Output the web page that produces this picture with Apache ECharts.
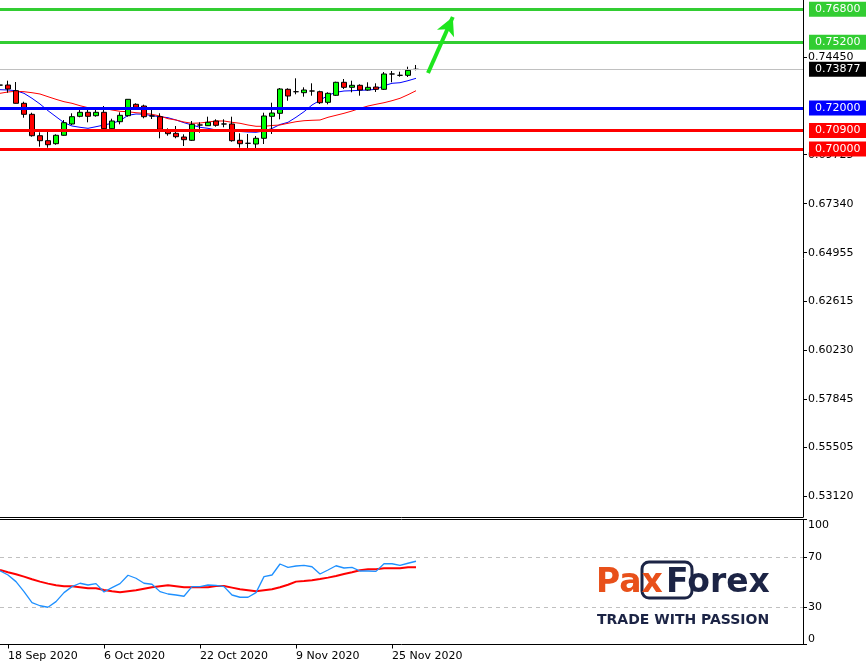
<!DOCTYPE html>
<html><head><meta charset="utf-8">
<script src="https://cdn.jsdelivr.net/npm/echarts@6/dist/echarts.min.js"></script>
<style>html,body{margin:0;padding:0;background:#fff}#c{width:866px;height:667px}</style>
</head><body><div id="c"></div>
<script>
// ---- data ----
const dates = ['17 Sep 2020','18 Sep 2020','21 Sep 2020','22 Sep 2020','23 Sep 2020','24 Sep 2020','25 Sep 2020','28 Sep 2020','29 Sep 2020','30 Sep 2020',
 '1 Oct 2020','2 Oct 2020','5 Oct 2020','6 Oct 2020','7 Oct 2020','8 Oct 2020','9 Oct 2020','12 Oct 2020','13 Oct 2020','14 Oct 2020',
 '15 Oct 2020','16 Oct 2020','19 Oct 2020','20 Oct 2020','21 Oct 2020','22 Oct 2020','23 Oct 2020','26 Oct 2020','27 Oct 2020','28 Oct 2020',
 '29 Oct 2020','30 Oct 2020','2 Nov 2020','3 Nov 2020','4 Nov 2020','5 Nov 2020','6 Nov 2020','9 Nov 2020','10 Nov 2020','11 Nov 2020',
 '12 Nov 2020','13 Nov 2020','16 Nov 2020','17 Nov 2020','18 Nov 2020','19 Nov 2020','20 Nov 2020','23 Nov 2020','24 Nov 2020','25 Nov 2020',
 '26 Nov 2020','27 Nov 2020','30 Nov 2020'];
// [open, close, low, high]
const candles = [
 [0.73110,0.73110,0.72920,0.73300],[0.73114,0.72920,0.72740,0.73324],[0.72837,0.72224,0.72214,0.73260],[0.72224,0.71688,0.71523,0.72301],
 [0.71688,0.70647,0.70599,0.71766],[0.70647,0.70404,0.70112,0.70813],[0.70404,0.70209,0.70063,0.70827],[0.70258,0.70667,0.70209,0.70715],
 [0.70667,0.71280,0.70647,0.71411],[0.71217,0.71572,0.71168,0.71737],[0.71591,0.71786,0.71543,0.71946],[0.71786,0.71591,0.71299,0.71932],
 [0.71620,0.71786,0.71572,0.71946],[0.71786,0.70988,0.70973,0.72092],[0.70988,0.71362,0.70959,0.71474],[0.71328,0.71640,0.71202,0.71786],
 [0.71620,0.72418,0.71572,0.72418],[0.72175,0.72029,0.71980,0.72224],[0.72092,0.71572,0.71494,0.72156],[0.71606,0.71606,0.71460,0.71898],
 [0.71572,0.70959,0.70521,0.71737],[0.70876,0.70745,0.70647,0.71007],[0.70764,0.70599,0.70521,0.71119],[0.70584,0.70453,0.70146,0.70715],
 [0.70423,0.71202,0.70389,0.71362],[0.71168,0.71168,0.70793,0.71299],[0.71134,0.71299,0.71119,0.71572],[0.71362,0.71153,0.71085,0.71445],
 [0.71217,0.71217,0.71056,0.71445],[0.71217,0.70404,0.70355,0.71572],[0.70423,0.70258,0.70063,0.70764],[0.70277,0.70277,0.70000,0.70730],
 [0.70243,0.70521,0.69903,0.70633],[0.70521,0.71606,0.70243,0.71766],[0.71591,0.71752,0.70730,0.72253],[0.71737,0.72920,0.71445,0.72968],
 [0.72905,0.72579,0.72350,0.72954],[0.72788,0.72788,0.72662,0.73440],[0.72740,0.72871,0.72545,0.73002],[0.72822,0.72822,0.72594,0.73197],
 [0.72788,0.72253,0.72190,0.72837],[0.72272,0.72710,0.72175,0.72759],[0.72613,0.73246,0.72579,0.73275],[0.73246,0.73002,0.72920,0.73406],
 [0.73002,0.73100,0.72759,0.73324],[0.73100,0.72871,0.72594,0.73148],[0.72871,0.73002,0.72837,0.73246],[0.73017,0.72905,0.72774,0.73197],
 [0.72905,0.73650,0.72871,0.73747],[0.73650,0.73650,0.73246,0.73795],[0.73586,0.73586,0.73518,0.73761],[0.73586,0.73830,0.73504,0.74005],
 [0.73877,0.73877,0.73830,0.74088]];
const maFast = [0.72886,0.72871,0.72837,0.72710,0.72467,0.72190,0.71864,0.71572,0.71280,0.71119,0.71056,0.71007,0.71085,0.71168,0.71251,0.71377,
 0.71640,0.71703,0.71693,0.71620,0.71572,0.71523,0.71411,0.71280,0.71168,0.71056,0.71007,0.70925,0.70876,0.70876,0.70852,0.70827,0.70813,
 0.70876,0.70998,0.71192,0.71299,0.71543,0.71815,0.72141,0.72370,0.72613,0.72759,0.72822,0.72837,0.72856,0.72871,0.72905,0.73080,0.73197,
 0.73226,0.73324,0.73440];
const maSlow = [0.72710,0.72774,0.72808,0.72788,0.72740,0.72676,0.72545,0.72418,0.72302,0.72224,0.72107,0.72010,0.71980,0.71980,0.71898,0.71834,
 0.71815,0.71766,0.71737,0.71688,0.71606,0.71474,0.71411,0.71313,0.71251,0.71265,0.71313,0.71362,0.71362,0.71299,0.71251,0.71168,0.71105,
 0.71105,0.71144,0.71168,0.71251,0.71328,0.71377,0.71397,0.71411,0.71543,0.71640,0.71737,0.71849,0.71980,0.72092,0.72175,0.72253,0.72350,
 0.72467,0.72642,0.72837];
const oscMain = [59,55.6,50.3,42.3,33.5,31,29.8,34.3,41.5,46.3,49,47.6,48.7,42,45.5,48.7,55.4,53,49,48.2,42.3,40.4,39.6,38.6,46.3,46.3,47.6,
 47.3,46.3,39.6,37.8,37.8,41.5,54.3,55.6,64.4,61.7,62.8,63.3,62.2,56.4,59.6,63,61.2,61.7,58.8,58.8,58.5,64.6,64.6,63.3,65,66.6];
const oscSignal = [59.6,57.8,56.2,54.3,52.2,50.3,48.7,47.4,46.6,46.6,45.8,45,45,43.6,42.6,41.8,42.6,43.4,44.6,45.8,46.6,47.4,46.6,45.8,45.8,
 45.8,45.8,46.7,46.8,45.5,44.2,43.4,42.6,43.4,44.2,45.8,47.8,50.3,50.8,51.4,52.4,53.5,54.8,56.4,57.8,59.4,60.2,60.2,61,61,61,61.8,61.8];
const priceTicks = [0.53120,0.55505,0.57845,0.60230,0.62615,0.64955,0.67340,0.69725,0.74450];
const oscTicks = [0,30,70,100];
const oscLevels = [70,30];
const xLabelIdx = [1,13,25,37,49];
const levels = [
 {value:0.76800, color:'#32cd32'},
 {value:0.75200, color:'#32cd32'},
 {value:0.72000, color:'#0000ff'},
 {value:0.70900, color:'#ff0000'},
 {value:0.70000, color:'#ff0000'}];
const currentPrice = 0.73877;
const arrowFrom = [53.5, 0.73698];
const arrowTo = [56.6, 0.76423];

// ---- chart ----
const FONT = 'DejaVu Sans';
const XMAX = 100.375;
const chart = echarts.init(document.getElementById('c'), null, {renderer:'canvas'});
const lbl = (bg) => ({show:true, position:'end', distance:6, formatter:p=>p.value.toFixed(5),
  backgroundColor:bg, color:'#fff', fontSize:11, fontFamily:FONT, padding:[2,6,1,6], lineHeight:12});

const levelLines = levels.map(l => ({yAxis:l.value, lineStyle:{color:l.color, width:3, type:'solid'}, label:lbl(l.color)}));
levelLines.push({yAxis:currentPrice, lineStyle:{color:'#c0c0c0', width:1, type:'solid'}, label:lbl('#000')});

chart.setOption({
  animation:false,
  backgroundColor:'#fff',
  grid:[{left:0, top:0, width:803, height:517}, {left:0, top:519.5, width:803, height:125}],
  xAxis:[
    {gridIndex:0, type:'value', min:0, max:XMAX, axisLine:{show:true, onZero:false, lineStyle:{color:'#000'}}, axisTick:{show:false}, axisLabel:{show:false}, splitLine:{show:false}},
    {gridIndex:1, type:'value', min:0, max:XMAX, position:'bottom', axisLine:{show:true, onZero:false, lineStyle:{color:'#000'}},
      axisTick:{show:true, length:4, customValues:xLabelIdx, lineStyle:{color:'#000'}},
      axisLabel:{show:true, customValues:xLabelIdx, formatter:v=>dates[Math.round(v)], align:'left', color:'#000', fontSize:11, fontFamily:FONT, margin:6},
      splitLine:{show:false}},
    {gridIndex:1, type:'value', min:0, max:XMAX, position:'top', axisLine:{show:true, onZero:false, lineStyle:{color:'#000'}}, axisTick:{show:false}, axisLabel:{show:false}, splitLine:{show:false}}
  ],
  yAxis:[
    {gridIndex:0, type:'value', position:'right', min:0.52092, max:0.77251,
      axisLine:{show:true, onZero:false, lineStyle:{color:'#000'}},
      axisTick:{show:true, length:4, customValues:priceTicks, lineStyle:{color:'#000'}},
      axisLabel:{show:true, customValues:priceTicks, formatter:v=>v.toFixed(5), color:'#000', fontSize:11, fontFamily:FONT, margin:5},
      splitLine:{show:false}},
    {gridIndex:1, type:'value', position:'right', min:0, max:100,
      axisLine:{show:true, onZero:false, lineStyle:{color:'#000'}},
      axisTick:{show:true, length:4, customValues:oscTicks, lineStyle:{color:'#000'}},
      axisLabel:{show:true, customValues:oscTicks, color:'#000', fontSize:11, fontFamily:FONT, margin:5,
        verticalAlignMaxLabel:'top', verticalAlignMinLabel:'bottom'},
      splitLine:{show:false}}
  ],
  series:[
    {type:'candlestick', xAxisIndex:0, yAxisIndex:0, barWidth:5,
      data:candles.map((d,i)=>[i,d[0],d[1],d[2],d[3]]), encode:{x:0, y:[1,2,3,4]},
      itemStyle:{color:'#00ff00', color0:'#ff0000', borderColor:'#000', borderColor0:'#000', borderColorDoji:'#000', borderWidth:1},
      markLine:{silent:true, symbol:'none', precision:5, data:levelLines}, z:3},
    {type:'line', xAxisIndex:0, yAxisIndex:0, data:maFast.map((v,i)=>[i,v]), symbol:'none', lineStyle:{color:'#0000ff', width:1}, z:2},
    {type:'line', xAxisIndex:0, yAxisIndex:0, data:maSlow.map((v,i)=>[i,v]), symbol:'none', lineStyle:{color:'#ff0000', width:1}, z:2,
      markLine:{silent:true, symbol:['none','arrow'], symbolSize:[14,18], label:{show:false},
        lineStyle:{color:'#1ee61e', width:4, type:'solid'},
        data:[[{coord:arrowFrom},{coord:arrowTo}]]}},
    {type:'line', xAxisIndex:1, yAxisIndex:1, data:oscSignal.map((v,i)=>[i,v]), symbol:'none', lineStyle:{color:'#ff0000', width:2}, z:2,
      markLine:{silent:true, symbol:'none', label:{show:false}, lineStyle:{color:'#c0c0c0', width:1, type:[4,4]},
        data:oscLevels.map(v=>({yAxis:v}))}},
    {type:'line', xAxisIndex:1, yAxisIndex:1, data:oscMain.map((v,i)=>[i,v]), symbol:'none', lineStyle:{color:'#1e90ff', width:1.3}, z:3}
  ],
  graphic:[
    {type:'rect', shape:{x:642, y:562, width:50, height:36, r:7}, style:{fill:'none', stroke:'#1c2445', lineWidth:3}, z:10},
    {type:'text', x:596, y:583, z:11, style:{text:'Pax', fill:'#e8501a', font:'bold 33px "DejaVu Sans"', verticalAlign:'middle'}},
    {type:'text', x:666, y:583, z:11, style:{text:'Forex', fill:'#1c2445', font:'bold 33px "DejaVu Sans"', verticalAlign:'middle'}},
    {type:'text', x:597, y:620, z:11, style:{text:'TRADE WITH PASSION', fill:'#1c2445', font:'bold 14px "DejaVu Sans"', verticalAlign:'middle'}}
  ]
});
</script></body></html>
